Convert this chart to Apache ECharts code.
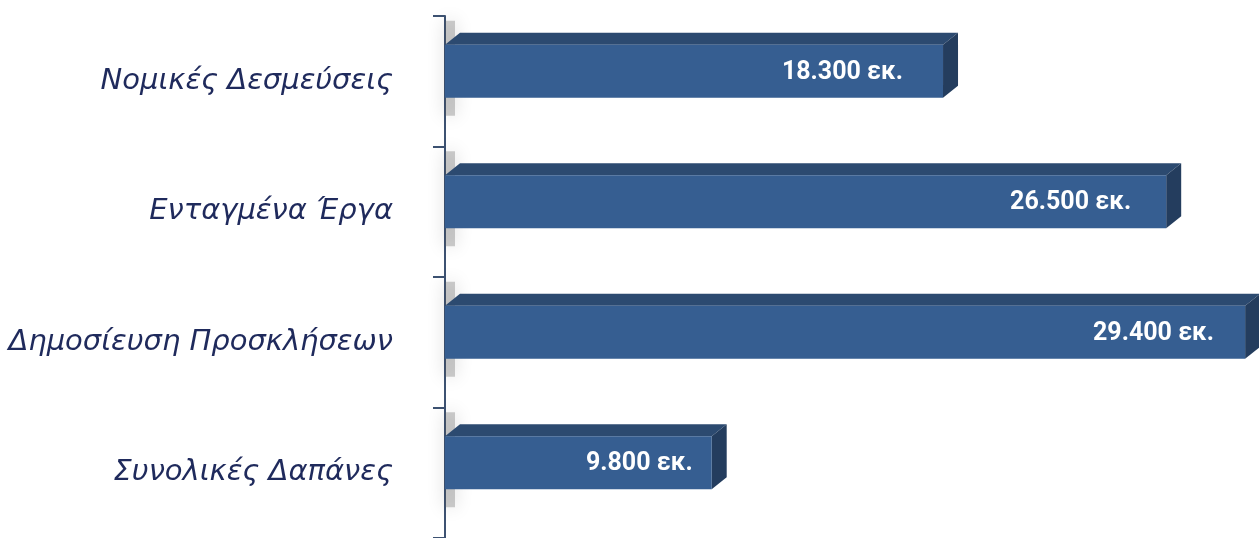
<!DOCTYPE html>
<html>
<head>
<meta charset="utf-8">
<script src="https://cdn.jsdelivr.net/npm/echarts@6/dist/echarts.min.js"></script>
<style>
  html, body { margin: 0; padding: 0; background: #fff; }
  #chart { width: 1259px; height: 538px; }
</style>
</head>
<body>
<div id="chart"></div>
<script>
// categories, top to bottom
const categories = ['Νομικές Δεσμεύσεις', 'Ενταγμένα Έργα', 'Δημοσίευση Προσκλήσεων', 'Συνολικές Δαπάνες'];
// values in thousands of euro
const values = [18300, 26500, 29400, 9800];
const valueLabels = ['18.300 εκ.', '26.500 εκ.', '29.400 εκ.', '9.800 εκ.'];

// distance of each value label from the bar end (px)
const labelInset = [40, 35, 31, 19];

const chart = echarts.init(document.getElementById('chart'));

// 3d bar: front face + top face + right face
function renderBar(params, api) {
  const p0 = api.coord([0, api.value(1)]);
  const p1 = api.coord([api.value(0), api.value(1)]);
  const h = 53, dx = 15, dy = 12;
  const x = p0[0], y = p0[1] - 10 - h / 2, w = p1[0] - p0[0];
  return {
    type: 'group',
    children: [
      { // soft shadow at the left end
        type: 'rect',
        shape: { x: x, y: y - dy - 12, width: 10, height: h + dy + 30 },
        style: { fill: 'rgba(90,90,90,0.3)', shadowBlur: 18, shadowColor: 'rgba(0,0,0,0.5)' },
        z2: 0
      },
      {
        type: 'polygon',
        shape: { points: [[x, y], [x + dx, y - dy], [x + w + dx, y - dy], [x + w, y]] },
        style: { fill: '#2c4a70' }, z2: 2
      },
      {
        type: 'polygon',
        shape: { points: [[x + w, y], [x + w + dx, y - dy], [x + w + dx, y + h - dy], [x + w, y + h]] },
        style: { fill: '#243d5e' }, z2: 2
      },
      {
        type: 'rect',
        shape: { x: x, y: y, width: w, height: h },
        style: { fill: '#365e91' }, z2: 3
      },
      {
        type: 'text',
        x: x + w - labelInset[params.dataIndex], y: y + h / 2 + 1,
        style: {
          text: valueLabels[params.dataIndex],
          fill: '#ffffff',
          font: 'bold 25px Roboto, sans-serif',
          align: 'right',
          verticalAlign: 'middle'
        },
        z2: 4
      }
    ]
  };
}

chart.setOption({
  animation: false,
  grid: { left: 445, right: 3, top: 16, bottom: 0 },
  xAxis: {
    type: 'value',
    min: 0,
    max: 29800,
    show: false
  },
  yAxis: {
    type: 'category',
    data: categories,
    inverse: true,
    offset: 13,
    axisLine: { show: true, lineStyle: { color: '#3d5272', width: 2 } },
    axisTick: { show: true, length: 12, lineStyle: { color: '#3d5272', width: 2 } },
    axisLabel: {
      margin: 39,
      color: '#1f2a5c',
      fontFamily: 'DejaVu Sans',
      fontStyle: 'italic',
      fontSize: 29
    },
    splitLine: { show: false }
  },
  series: [{
    type: 'custom',
    renderItem: renderBar,
    encode: { x: 0, y: 1 },
    data: values.map((v, i) => [v, i]),
    clip: false
  }]
});
</script>
</body>
</html>
